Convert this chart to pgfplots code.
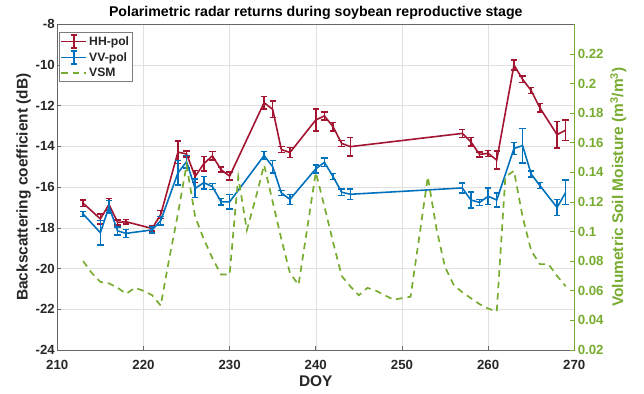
\documentclass[border=0pt]{standalone}
\usepackage{pgfplots}
\pgfplotsset{compat=1.18}
\usepackage{fontspec}
\setmainfont{Liberation Sans}
\definecolor{hhc}{rgb}{0.635,0.078,0.184}
\definecolor{vvc}{rgb}{0,0.447,0.741}
\definecolor{vsmc}{rgb}{0.466,0.674,0.188}
\definecolor{axc}{rgb}{0.15,0.15,0.15}
\pgfplotsset{
  ebleg/.style={legend image code/.code={
    \draw[##1] (0bp,0bp) -- (25bp,0bp);
    \draw[##1] (12.5bp,-6.5bp) -- (12.5bp,6.5bp);
    \draw[##1] (9.5bp,6.5bp) -- (15.5bp,6.5bp);
    \draw[##1] (9.5bp,-6.5bp) -- (15.5bp,-6.5bp);}},
  lnleg/.style={legend image code/.code={
    \draw[##1] (0bp,0bp) -- (25bp,0bp);}},
}
\pgfplotstableread{
x y e
213 -16.79 0.15
215 -17.56 0.25
216 -16.85 0.3
217 -17.73 0.12
218 -17.70 0.1
221 -18.03 0.12
222 -17.35 0.2
224 -14.28 0.55
225 -14.37 0.15
226 -15.48 0.3
227 -14.85 0.35
228 -14.46 0.2
229 -15.14 0.12
230 -15.46 0.2
234 -11.85 0.3
235 -12.18 0.4
236 -14.15 0.15
237 -14.30 0.25
240 -12.70 0.55
241 -12.50 0.2
242 -13.03 0.2
243 -13.85 0.15
244 -14.01 0.45
257 -13.36 0.2
258 -13.77 0.2
259 -14.39 0.12
260 -14.34 0.15
261 -14.67 0.45
263 -10.00 0.25
264 -10.70 0.15
265 -11.26 0.15
266 -12.10 0.2
268 -13.42 0.65
269 -13.20 0.5
}\hhdata
\pgfplotstableread{
x y e
213 -17.32 0.12
215 -18.24 0.6
216 -16.96 0.3
217 -18.15 0.2
218 -18.27 0.2
221 -18.10 0.15
222 -17.65 0.2
224 -15.30 0.6
225 -14.75 0.3
226 -16.06 0.45
227 -15.78 0.3
228 -15.97 0.15
229 -16.72 0.15
230 -16.72 0.35
234 -14.45 0.2
235 -15.00 0.3
236 -16.28 0.12
237 -16.60 0.25
240 -15.10 0.2
241 -14.78 0.2
242 -15.48 0.15
243 -16.25 0.15
244 -16.35 0.25
257 -16.04 0.25
258 -16.63 0.4
259 -16.75 0.15
260 -16.45 0.4
261 -16.63 0.35
263 -14.10 0.3
264 -13.96 0.85
265 -15.36 0.15
266 -15.92 0.15
268 -17.00 0.4
269 -16.26 0.6
}\vvdata
\pgfplotstableread{
x v
213 0.080
214 0.072
215 0.066
216 0.065
217 0.062
218 0.058
219 0.062
220 0.060
221 0.057
222 0.050
223 0.082
224 0.112
225 0.145
226 0.110
227 0.095
228 0.082
229 0.071
230 0.071
231 0.137
232 0.101
233 0.122
234 0.145
235 0.120
236 0.095
237 0.072
238 0.064
239 0.102
240 0.140
241 0.117
242 0.093
243 0.070
244 0.063
245 0.057
246 0.062
247 0.060
248 0.057
249 0.054
250 0.055
251 0.056
252 0.096
253 0.137
254 0.102
255 0.076
256 0.064
257 0.059
258 0.055
259 0.051
260 0.048
261 0.046
262 0.137
263 0.141
264 0.110
265 0.087
266 0.078
267 0.078
268 0.070
269 0.063
}\vsmdata
\begin{document}
\begin{tikzpicture}
\path[use as bounding box] (-57.3bp,-44bp) rectangle (586.7bp,350bp);
\begin{axis}[
  at={(0,0)}, anchor=south west,
  scale only axis, width=517bp, height=325.7bp,
  xmin=210, xmax=270, ymin=-24, ymax=-8,
  xtick={210,220,...,270}, ytick={-24,-22,...,-8},
  xtick pos=bottom, ytick pos=left, tick align=inside,
  major tick length=4bp,
  grid=major, grid style={black!12, line width=0.5pt},
  axis line style={axc!70, line width=0.6pt},
  tick style={axc!70, line width=0.6pt},
  /pgf/number format/assume math mode=true,
  ticklabel style={font=\fontsize{13.3}{15}\selectfont\bfseries, text=axc},
  yticklabel style={xshift=1bp},
  xticklabel style={yshift=-7bp},
  xlabel={DOY}, ylabel={Backscattering coefficient (dB)},
  label style={font=\fontsize{15.5}{17}\selectfont\bfseries, text=axc},
  xlabel style={yshift=1bp},
  ylabel style={yshift=-2bp},
  title={Polarimetric radar returns during soybean reproductive stage},
  title style={font=\fontsize{14.2}{16}\selectfont\bfseries, text=black, yshift=-5bp},
  legend style={at={(axis description cs:0.003,0.975)}, anchor=north west,
    draw=axc!60, fill=white, font=\fontsize{12.2}{13}\selectfont\bfseries,
    row sep=1.5bp, inner sep=1.5bp, text=axc},
  legend cell align=left,
  error bars/y dir=both, error bars/y explicit,
  every error bar/.append style={line width=1.5pt},
  error bars/error mark options={rotate=90, mark size=3.2bp, line width=1.5pt},
]
\addplot[hhc, line width=1.6pt, mark=none, forget plot]
  table[x=x, y=y, y error=e] {\hhdata};
\addplot[vvc, line width=1.6pt, mark=none, forget plot]
  table[x=x, y=y, y error=e] {\vvdata};
\addlegendimage{hhc, line width=1.5pt, ebleg}
\addlegendentry{HH-pol}
\addlegendimage{vvc, line width=1.5pt, ebleg}
\addlegendentry{VV-pol}
\addlegendimage{vsmc, line width=1.7pt, dash pattern=on 6.5bp off 5bp, lnleg}
\addlegendentry{VSM}
\end{axis}
\begin{axis}[
  at={(0,0)}, anchor=south west,
  scale only axis, width=517bp, height=325.7bp,
  xmin=210, xmax=270, ymin=0.02, ymax=0.24,
  axis x line=none, axis y line*=right,
  ytick={0.02,0.04,...,0.221},
  ytick align=inside, major tick length=4bp,
  axis line style={vsmc, line width=0.6pt},
  ytick style={vsmc, line width=0.6pt},
  /pgf/number format/assume math mode=true,
  /pgf/number format/fixed, /pgf/number format/precision=2,
  yticklabel style={font=\fontsize{13.3}{15}\selectfont\bfseries, text=vsmc},
  ylabel={Volumetric Soil Moisture (m\textsuperscript{3}/m\textsuperscript{3})},
  ylabel style={font=\fontsize{15.5}{17}\selectfont\bfseries, text=vsmc},
]
\addplot[vsmc, line width=1.7pt, dash pattern=on 6.5bp off 5bp, mark=none]
  table[x=x, y=v] {\vsmdata};
\end{axis}
\end{tikzpicture}
\end{document}
